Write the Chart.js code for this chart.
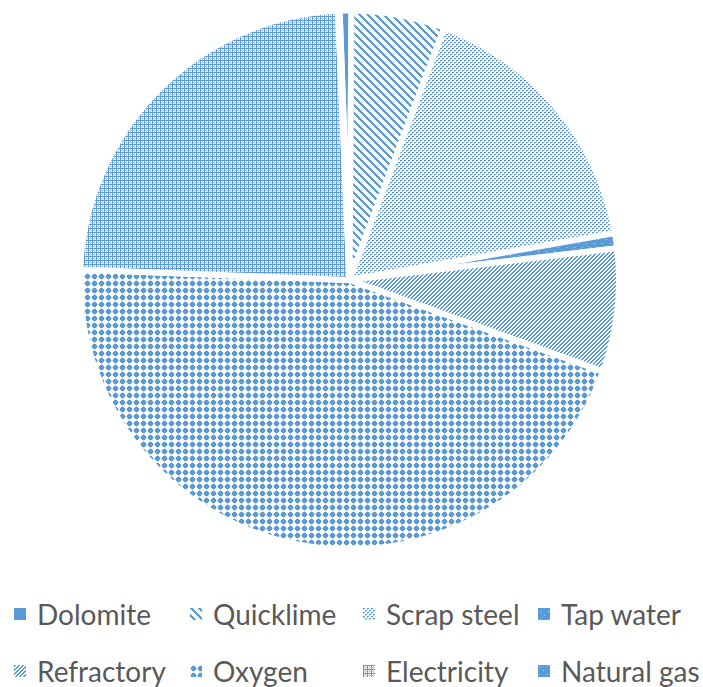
<!DOCTYPE html>
<html>
<head>
<meta charset="utf-8">
<script src="https://cdn.jsdelivr.net/npm/chart.js@4.4.1/dist/chart.umd.min.js"></script>
<style>
  html, body { margin: 0; padding: 0; background: #fff; }
  #wrap { position: relative; width: 703px; height: 687px; overflow: hidden; }
  #pie { position: absolute; left: 0; top: 0; }
  .key { position: absolute; display: flex; align-items: center; height: 36px;
         font-family: Lato, "Open Sans", sans-serif; font-size: 28px; color: #595959; white-space: nowrap; }
  .key canvas { margin-right: 11px; }
</style>
</head>
<body>
<div id="wrap">
  <canvas id="pie" width="703" height="560"></canvas>
  <div id="legend"></div>
</div>
<script>
// input shares, % of total
const labels = ['Dolomite', 'Quicklime', 'Scrap steel', 'Tap water', 'Refractory', 'Oxygen', 'Electricity', 'Natural gas'];
const shares = [0.7, 5.6, 16.5, 0.9, 7.4, 45.1, 23.7, 0.1];
const fills  = ['solid', 'wideDown', 'dotted', 'speckle', 'fineUp', 'knobs', 'grid', 'speckle2'];

const BLUE = '#5B9BD5', PALE = '#BDD7EE', LIGHT = '#9DC3E6';

// tiny bitmap tiles for the hatch fills
function tile(size, paint) {
  const c = document.createElement('canvas');
  c.width = c.height = size;
  const g = c.getContext('2d');
  paint((x, y, col) => { g.fillStyle = col; g.fillRect(x, y, 1, 1); }, g);
  return c;
}
const tiles = {
  solid: tile(8, (p, g) => { g.fillStyle = BLUE; g.fillRect(0, 0, 8, 8); }),
  wideDown: tile(8, p => {
    for (let y = 0; y < 8; y++) for (let x = 0; x < 8; x++)
      if ((x - y + 8) % 8 < 3) p(x, y, BLUE);
  }),
  dotted: tile(4, p => {
    p(0, 0, BLUE); p(1, 0, BLUE); p(0, 1, LIGHT);
    p(2, 2, BLUE); p(3, 2, BLUE); p(2, 3, LIGHT);
  }),
  speckle: tile(8, (p, g) => { g.fillStyle = BLUE; g.fillRect(0, 0, 8, 8); p(2, 3, PALE); p(6, 7, PALE); }),
  fineUp: tile(4, p => {
    for (let y = 0; y < 4; y++) for (let x = 0; x < 4; x++)
      if ((x + y) % 4 < 2) p(x, y, BLUE);
  }),
  knobs: tile(7, (p, g) => {
    for (let i = 0; i < 7; i++) { p(i, 3, PALE); p(3, i, PALE); }
    g.fillStyle = BLUE;
    g.fillRect(2, 1, 3, 5); g.fillRect(1, 2, 5, 3);
  }),
  grid: tile(4, p => {
    for (let i = 0; i < 4; i++) { p(i, 2, PALE); p(2, i, PALE); }
    for (let i = 0; i < 4; i++) { p(i, 0, BLUE); p(0, i, BLUE); }
  }),
  speckle2: tile(8, (p, g) => { g.fillStyle = BLUE; g.fillRect(0, 0, 8, 8); p(1, 1, PALE); p(5, 5, PALE); })
};

const canvas = document.getElementById('pie');
const ctx = canvas.getContext('2d');
const patterns = fills.map(f => ctx.createPattern(tiles[f], 'repeat'));

new Chart(canvas, {
  type: 'pie',
  data: {
    labels,
    datasets: [{
      data: shares,
      backgroundColor: patterns,
      borderColor: '#ffffff',
      borderWidth: 6,
      radius: 269.5
    }]
  },
  options: {
    responsive: false,
    animation: false,
    devicePixelRatio: 1,
    rotation: -2.1,
    layout: { padding: { right: 4 } },
    plugins: { legend: { display: false }, tooltip: { enabled: false } }
  }
});

// legend: 4 columns x 2 rows under the pie
const legend = document.getElementById('legend');
const colX = [14, 190, 363, 538], rowY = [614, 671];
labels.forEach((name, i) => {
  const item = document.createElement('div');
  item.className = 'key';
  item.style.left = colX[i % 4] + 'px';
  item.style.top = (rowY[Math.floor(i / 4)] - 18) + 'px';
  const sw = document.createElement('canvas');
  sw.width = sw.height = 12;
  const sg = sw.getContext('2d');
  sg.fillStyle = sg.createPattern(tiles[fills[i]], 'repeat');
  sg.fillRect(0, 0, 12, 12);
  const txt = document.createElement('span');
  txt.textContent = name;
  item.appendChild(sw);
  item.appendChild(txt);
  legend.appendChild(item);
});
</script>
</body>
</html>
